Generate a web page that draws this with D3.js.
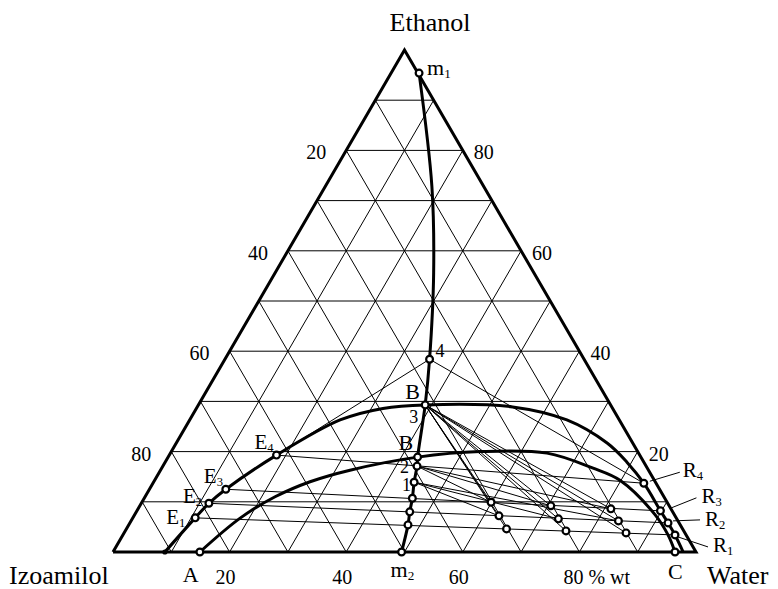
<!DOCTYPE html>
<html>
<head>
<meta charset="utf-8">
<script src="https://cdn.jsdelivr.net/npm/d3@7/dist/d3.min.js"></script>
<style>
  body { margin: 0; background: #fff; }
  text { font-family: "Liberation Serif", "Times New Roman", serif; fill: #000; }
</style>
</head>
<body>
<div id="chart"></div>
<script>
// all compositions are % wt as [ethanol, water]; izoamilol is what is left
var gridSteps = [10, 20, 30, 40, 50, 60, 70, 80, 90];
var tickValues = [20, 40, 60, 80];

// outer binodal curve, extract side (E) -> plait point B -> raffinate side (R)
var upperCurve = [[0, 8.9], [6.8, 10.7], [9.7, 11.6], [12.5, 13.1], [19.3, 18.4],
  [26.3, 25.8], [28.6, 32.0], [29.3, 38.9], [28.9, 54.1], [26.3, 64.7],
  [21.7, 73.9], [17.9, 79.2], [13.7, 84.2], [8.2, 89.8], [5.8, 92.3],
  [3.4, 94.7], [0, 97.8]];

// inner binodal curve A -> B' -> C
var lowerCurve = [[0, 14.9], [6.7, 18.4], [11.0, 22.3], [14.0, 26.8], [16.3, 32.5],
  [18.9, 42.8], [20.0, 53.0], [19.7, 64.6], [16.7, 74.0], [14.3, 79.8],
  [7.4, 89.3], [3.4, 93.5], [0, 96.4]];

// mixing line m1 -> m2
var mixLine = [[95.4, 4.8], [72.8, 18.3], [55.6, 27.2], [38.4, 35.1], [29.3, 38.9],
  [18.9, 42.8], [17.1, 43.6], [13.9, 44.7], [10.7, 46.0], [8.0, 46.9],
  [5.4, 47.9], [0, 49.5]];
var mixMarked = [true, false, false, true, true, true, true, true, true, true, true, true];

// extract and raffinate ends of the tie lines
var extractNames = ["E1", "E2", "E3", "E4"];
var extractPts = [[6.8, 10.7], [9.7, 11.6], [12.5, 13.1], [19.3, 18.4]];
var raffNames = ["R1", "R2", "R3", "R4"];
var raffPts = [[3.4, 94.7], [5.8, 92.3], [8.2, 89.8], [13.7, 84.2]];

// ends of the inner curve on the base
var baseNames = ["A", "C"];
var basePts = [[0, 14.9], [0, 96.4]];

// mixtures on the tie lines E3R3, E2R2, E1R1 at 30, 20, 10 % izoamilol
var rowE3 = [[9.9, 59.9], [9.2, 70.5], [8.6, 81.1]];
var rowE2 = [[7.2, 62.6], [6.6, 73.1], [6.2, 83.6]];
var rowE1 = [[4.6, 65.2], [4.2, 75.6], [3.8, 86.1]];

var width = 778, height = 589;

var xScale = d3.scaleLinear().domain([0, 100]).range([113, 696]);
var yScale = d3.scaleLinear().domain([0, 100]).range([552, 50]);

// ternary -> screen
function px(d) { return [xScale(d[1] + d[0] / 2), yScale(d[0])]; }

var svg = d3.select("#chart").append("svg")
    .attr("width", width)
    .attr("height", height);

// grid, one family of lines for each component
var gridLines = [];
gridSteps.forEach(function(k) {
  gridLines.push([[k, 0], [k, 100 - k]]);        // ethanol const
  gridLines.push([[0, k], [100 - k, k]]);        // water const
  gridLines.push([[0, 100 - k], [100 - k, 0]]);  // izoamilol const
});

var line = d3.line().x(d => px(d)[0]).y(d => px(d)[1]);
var smooth = d3.line().x(d => px(d)[0]).y(d => px(d)[1]).curve(d3.curveCatmullRom);

svg.append("g").selectAll("path")
    .data(gridLines)
    .join("path")
    .attr("d", line)
    .attr("fill", "none")
    .attr("stroke", "#000")
    .attr("stroke-width", 1);

var mixPoints = rowE3.concat(rowE2, rowE1);

// tie lines and construction lines
var thin = [];
for (var i = 0; i < 4; i++) thin.push([extractPts[i], raffPts[i]]);
thin.push([mixLine[3], extractPts[3]]);
thin.push([mixLine[3], raffPts[3]]);
mixPoints.forEach(function(p) { thin.push([mixLine[4], p]); });   // from 3
rowE3.forEach(function(p) { thin.push([mixLine[6], p]); });       // from 2
rowE2.forEach(function(p) { thin.push([mixLine[7], p]); });       // from 1

svg.append("g").selectAll("path")
    .data(thin)
    .join("path")
    .attr("d", line)
    .attr("fill", "none")
    .attr("stroke", "#000")
    .attr("stroke-width", 1);

// triangle
svg.append("path")
    .attr("d", line([[0, 0], [0, 100], [100, 0], [0, 0]]))
    .attr("fill", "none")
    .attr("stroke", "#000")
    .attr("stroke-width", 3)
    .attr("stroke-linejoin", "miter");

[upperCurve, lowerCurve, mixLine].forEach(function(c) {
  svg.append("path")
      .attr("d", smooth(c))
      .attr("fill", "none")
      .attr("stroke", "#000")
      .attr("stroke-width", 3);
});

// circles
var marks = mixLine.filter((d, i) => mixMarked[i])
    .concat(extractPts, raffPts, basePts, mixPoints);

svg.append("g").selectAll("circle")
    .data(marks)
    .join("circle")
    .attr("cx", d => px(d)[0])
    .attr("cy", d => px(d)[1])
    .attr("r", 3.4)
    .attr("fill", "#fff")
    .attr("stroke", "#000")
    .attr("stroke-width", 2.2);

svg.append("circle")
    .attr("cx", px(upperCurve[0])[0])
    .attr("cy", px(upperCurve[0])[1])
    .attr("r", 2.6)
    .attr("fill", "#000");

// axis tick labels
var ticks = svg.append("g").attr("font-size", 20).attr("text-anchor", "middle");
tickValues.forEach(function(v) {
  var l = px([100 - v, 0]), r = px([v, 100 - v]), b = px([0, v]);
  ticks.append("text").attr("x", l[0] - 30).attr("y", l[1] + 9).text(v);
  ticks.append("text").attr("x", r[0] + 21).attr("y", r[1] + 9).text(v);
  if (v === 80) {
    ticks.append("text").attr("x", b[0] - 16).attr("y", b[1] + 32)
        .attr("text-anchor", "start").text(v + " % wt");
  } else {
    ticks.append("text").attr("x", b[0] - 4).attr("y", b[1] + 32).text(v);
  }
});

// corner names
var corners = svg.append("g").attr("font-size", 26);
corners.append("text").attr("x", 430).attr("y", 31).attr("text-anchor", "middle").text("Ethanol");
corners.append("text").attr("x", 9).attr("y", 584).text("Izoamilol");
corners.append("text").attr("x", 707).attr("y", 584).text("Water");

// point labels with a subscript part
function label(name, p, dx, dy, size) {
  var xy = px(p);
  var t = svg.append("text")
      .attr("x", xy[0] + dx)
      .attr("y", xy[1] + dy)
      .attr("font-size", size);
  t.append("tspan").text(name[0]);
  if (name.length > 1) {
    t.append("tspan").attr("font-size", size * 0.6).attr("dy", 3).text(name.slice(1));
  }
}

label("m1", mixLine[0], 8, 2, 22);
label("m2", mixLine[11], -11, 25, 22);
label("4", mixLine[3], 6, -2, 18);
label("B", mixLine[4], -20, -6, 22);
label("3", mixLine[4], -16, 18, 18);
label("B", mixLine[5], -19, -7, 22);
label("2", mixLine[6], -17, 7, 18);
label("1", mixLine[7], -12, 9, 18);

var eOff = [[-29, 6], [-26, 0], [-22, -6], [-22, -6]];
extractPts.forEach(function(p, i) { label(extractNames[i], p, eOff[i][0], eOff[i][1], 21); });

var rOff = [[38, 17], [37, 3], [41, -8], [39, -6]];
var leadA = [[3, 2], [5, -2], [11, -3], [6, -2]];
var leadB = [[33, 12], [32, -3], [36, -13], [36, -11]];
raffPts.forEach(function(p, i) {
  var xy = px(p);
  svg.append("line")
      .attr("x1", xy[0] + leadA[i][0]).attr("y1", xy[1] + leadA[i][1])
      .attr("x2", xy[0] + leadB[i][0]).attr("y2", xy[1] + leadB[i][1])
      .attr("stroke", "#000").attr("stroke-width", 1);
  label(raffNames[i], p, rOff[i][0], rOff[i][1], 21);
});

label("A", basePts[0], -17, 30, 22);
label("C", basePts[1], -7, 27, 22);
</script>
</body>
</html>
